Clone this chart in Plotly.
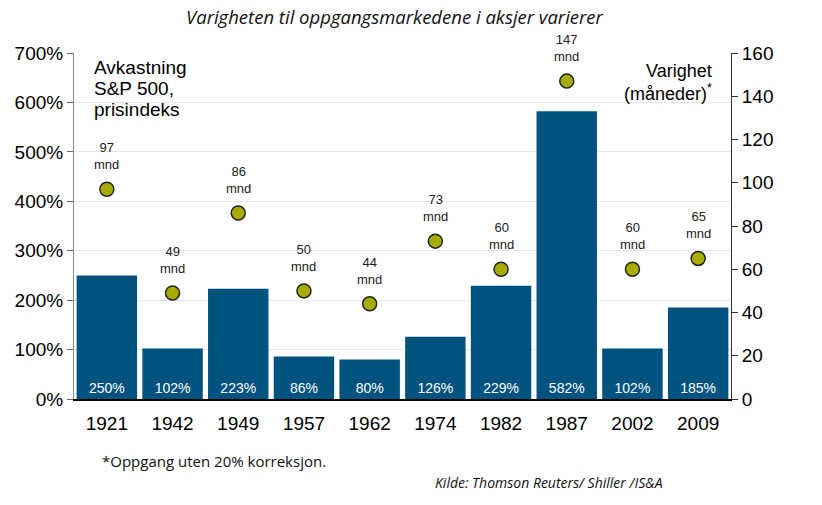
import plotly.graph_objects as go

years = ["1921", "1942", "1949", "1957", "1962", "1974", "1982", "1987", "2002", "2009"]
returns_pct = [250, 102, 223, 86, 80, 126, 229, 582, 102, 185]
duration_months = [97, 49, 86, 50, 44, 73, 60, 147, 60, 65]
left_ticks = [0, 100, 200, 300, 400, 500, 600, 700]
right_ticks = [0, 20, 40, 60, 80, 100, 120, 140, 160]

BAR = "#00527f"
DOT = "#a6ad00"

W, H = 822, 505
ML, MR, MT, MB = 74, 91, 53, 106
PW, PH = W - ML - MR, H - MT - MB


def px(x):
    return (x - ML) / PW


def py(y):
    return (H - MB - y) / PH


fig = go.Figure()
fig.add_trace(go.Bar(
    x=years, y=returns_pct, marker_color=BAR, marker_line_width=0,
    text=[f"{v}%" for v in returns_pct], textposition="inside",
    insidetextanchor="start", textangle=0,
    textfont=dict(family="Arial", size=14, color="white"),
    showlegend=False, yaxis="y",
))
fig.add_trace(go.Scatter(
    x=years, y=duration_months, mode="markers",
    marker=dict(size=14, color=DOT, line=dict(color="#222222", width=1.5)),
    showlegend=False, yaxis="y2",
))
for i, d in enumerate(duration_months):
    fig.add_annotation(x=i, y=d, xref="x", yref="y2", text=f"{d}<br>mnd",
                       showarrow=False, yanchor="bottom", yshift=15,
                       font=dict(family="Arial", size=13, color="#222222"))

for k, line in enumerate(["Avkastning", "S&P 500,", "prisindeks"]):
    fig.add_annotation(x=px(92), y=py(68 + 21 * k), xref="paper", yref="paper", xanchor="left",
                       yanchor="middle", text=line, showarrow=False,
                       font=dict(family="Arial", size=19, color="black"))
for k, line in enumerate(["Varighet", "(måneder)<sup>*</sup>"]):
    fig.add_annotation(x=px(714), y=py(71 + 21 * k), xref="paper", yref="paper", xanchor="right",
                       yanchor="middle", text=line, showarrow=False,
                       font=dict(family="Arial", size=18, color="black"))

fig.add_annotation(x=px(395), y=py(17), xref="paper", yref="paper", yanchor="middle",
                   xanchor="center", text="<i>Varigheten til oppgangsmarkedene i aksjer varierer</i>",
                   showarrow=False, font=dict(family="Open Sans", size=18.5, color="#111111"))
fig.add_annotation(x=px(100), y=py(461), xref="paper", yref="paper", xanchor="left",
                   yanchor="middle", text="*Oppgang uten 20% korreksjon.", showarrow=False,
                   font=dict(family="Open Sans", size=15, color="#111111"))
fig.add_annotation(x=px(433), y=py(482), xref="paper", yref="paper", xanchor="left",
                   yanchor="middle", text="<i>Kilde: Thomson Reuters/ Shiller /IS&A</i>",
                   showarrow=False, font=dict(family="Open Sans", size=14, color="#111111"))

fig.update_layout(
    width=W, height=H,
    margin=dict(l=ML, r=MR, t=MT, b=MB),
    paper_bgcolor="white", plot_bgcolor="white",
    bargap=0.08,
    xaxis=dict(type="category", range=[-0.5, len(years) - 0.5], showline=True,
               linecolor="black", linewidth=1.5, ticks="", ticklabelstandoff=6,
               tickfont=dict(family="Arial", size=19, color="black")),
    yaxis=dict(range=[0, 700], tickvals=left_ticks, ticktext=[f"{v}%" for v in left_ticks],
               showgrid=True, gridcolor="#e8e8e8", gridwidth=1, zeroline=False,
               showline=True, linecolor="#888888", linewidth=1,
               ticks="outside", ticklen=6, tickcolor="#666666",
               tickfont=dict(family="Arial", size=19, color="black")),
    yaxis2=dict(range=[0, 160], tickvals=right_ticks, overlaying="y", side="right",
                showgrid=False, zeroline=False, showline=True, linecolor="#333333", linewidth=1,
                ticks="outside", ticklen=6, tickcolor="#333333",
                tickfont=dict(family="Arial", size=19, color="black")),
)

fig.write_html("out.html", config={"displayModeBar": False},
               post_script="document.body.style.margin='0';")
